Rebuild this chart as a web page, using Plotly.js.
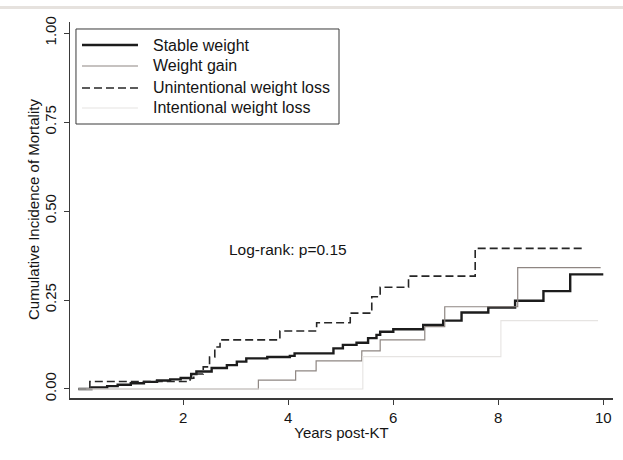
<!DOCTYPE html>
<html>
<head>
<meta charset="utf-8">
<script src="https://cdn.plot.ly/plotly-3.0.1.min.js"></script>
<style>
  html, body { margin: 0; padding: 0; background: #ffffff; }
  #chart { width: 623px; height: 460px; }
  #topband { position: absolute; left: 0; top: 6px; width: 623px; height: 3px; background: #e6e2de; z-index: 5; }
</style>
</head>
<body>
<div id="topband"></div>
<div id="chart"></div>
<script>
// Kaplan-Meier style cumulative incidence (step) data
const stableYears = [0, 0.25, 0.55, 0.75, 1.0, 1.25, 1.5, 1.75, 1.95, 2.15, 2.25, 2.54, 2.83, 3.02, 3.2, 3.6, 4.03, 4.12, 4.86, 5.04, 5.3, 5.52, 5.68, 5.75, 6.0, 6.57, 6.95, 7.3, 7.81, 8.32, 8.86, 9.37, 10.0];
const stableInc   = [0, 0.004, 0.008, 0.012, 0.016, 0.02, 0.024, 0.027, 0.031, 0.042, 0.049, 0.059, 0.067, 0.077, 0.086, 0.09, 0.093, 0.1, 0.114, 0.124, 0.13, 0.143, 0.152, 0.161, 0.168, 0.18, 0.192, 0.215, 0.229, 0.248, 0.275, 0.322, 0.322];

const gainYears = [0, 3.43, 4.14, 4.53, 5.4, 5.75, 6.6, 6.98, 8.37, 9.95];
const gainInc   = [0, 0.025, 0.051, 0.079, 0.107, 0.138, 0.175, 0.231, 0.341, 0.341];

const unintYears = [0, 0.22, 2.13, 2.2, 2.38, 2.5, 2.6, 2.7, 3.84, 4.54, 5.18, 5.59, 5.75, 6.29, 7.56, 9.62];
const unintInc   = [0, 0.021, 0.03, 0.042, 0.062, 0.09, 0.118, 0.138, 0.163, 0.186, 0.213, 0.259, 0.286, 0.317, 0.395, 0.395];

const intYears = [0, 5.42, 8.05, 9.9];
const intInc   = [0, 0.091, 0.192, 0.192];

const seriesNames = ["Stable weight", "Weight gain", "Unintentional weight loss", "Intentional weight loss"];
const xTickVals = [2, 4, 6, 8, 10];
const yTickVals = [0, 0.25, 0.5, 0.75, 1.0];
const yTickText = ["0.00", "0.25", "0.50", "0.75", "1.00"];
const annotationText = "Log-rank: p=0.15";
const xTitle = "Years post-KT";
const yTitle = "Cumulative Incidence of Mortality";

const FONT = "Liberation Sans, Arial, Helvetica, sans-serif";
const TXT = "#141414";

const lineStyles = [
  { shape: "hv", color: "#1c1c1c", width: 2.4 },
  { shape: "hv", color: "#8e8682", width: 1.2 },
  { shape: "hv", color: "#262626", width: 1.6, dash: "8px,4px" },
  { shape: "hv", color: "#e6e4e2", width: 1.1 }
];
const xsList = [stableYears, gainYears, unintYears, intYears];
const ysList = [stableInc, gainInc, unintInc, intInc];

const traces = seriesNames.map((nm, i) => ({
  x: xsList[i], y: ysList[i], name: nm, mode: "lines",
  line: lineStyles[i], showlegend: false
}));

// hand-placed legend box (paper coordinates) to match the original's spacing
const legX0 = 0.011, legX1 = 0.4954, legY0 = 0.9814, legY1 = 0.7287;
const legSampleX0 = 0.0221, legSampleX1 = 0.1252, legTextX = 0.1492;
const legRowY = [0.9388, 0.8830, 0.8245, 0.7713];

const shapes = [
  { type: "rect", xref: "paper", yref: "paper", x0: legX0, x1: legX1, y0: legY1, y1: legY0,
    line: { color: "#3a3a3a", width: 1 }, fillcolor: "rgba(0,0,0,0)" }
];
const annotations = [
  { x: 3.99, y: 0.393, xref: "x", yref: "y", text: annotationText, showarrow: false,
    font: { family: FONT, size: 15.5, color: TXT }, xanchor: "center", yanchor: "middle" },
  { x: -0.0681, y: 0.5, xref: "paper", yref: "paper", text: yTitle, showarrow: false, textangle: -90,
    font: { family: FONT, size: 15, color: TXT }, xanchor: "center", yanchor: "middle" }
];
seriesNames.forEach((nm, i) => {
  const st = lineStyles[i];
  shapes.push({ type: "line", xref: "paper", yref: "paper",
    x0: legSampleX0, x1: legSampleX1, y0: legRowY[i], y1: legRowY[i],
    line: { color: st.color, width: st.width, dash: st.dash || "solid" } });
  annotations.push({ x: legTextX, y: legRowY[i], xref: "paper", yref: "paper", text: nm,
    showarrow: false, xanchor: "left", yanchor: "middle",
    font: { family: FONT, size: 16, color: TXT } });
});

const layout = {
  width: 623, height: 460,
  paper_bgcolor: "#ffffff", plot_bgcolor: "#ffffff",
  margin: { l: 70, r: 10, t: 22, b: 62 },
  font: { family: FONT, size: 15, color: TXT },
  showlegend: false,
  xaxis: {
    range: [-0.158, 10.185], showgrid: false, zeroline: false,
    showline: true, linecolor: "#3a3a3a", linewidth: 1.5,
    ticks: "outside", ticklen: 5, tickcolor: "#3a3a3a", tickwidth: 1,
    tickvals: xTickVals, ticktext: xTickVals.map(String),
    tickfont: { family: FONT, size: 15, color: TXT },
    title: { text: xTitle, font: { family: FONT, size: 15, color: TXT }, standoff: 3 }
  },
  yaxis: {
    range: [-0.0253, 1.031], showgrid: false, zeroline: false,
    showline: true, linecolor: "#3a3a3a", linewidth: 1.5,
    ticks: "outside", ticklen: 5, tickcolor: "#3a3a3a", tickwidth: 1,
    tickvals: yTickVals, ticktext: yTickText, tickangle: -90,
    ticklabelstandoff: 2,
    tickfont: { family: FONT, size: 15, color: TXT }
  },
  shapes: shapes,
  annotations: annotations
};

Plotly.newPlot("chart", traces, layout, { displayModeBar: false, staticPlot: true });
</script>
</body>
</html>
